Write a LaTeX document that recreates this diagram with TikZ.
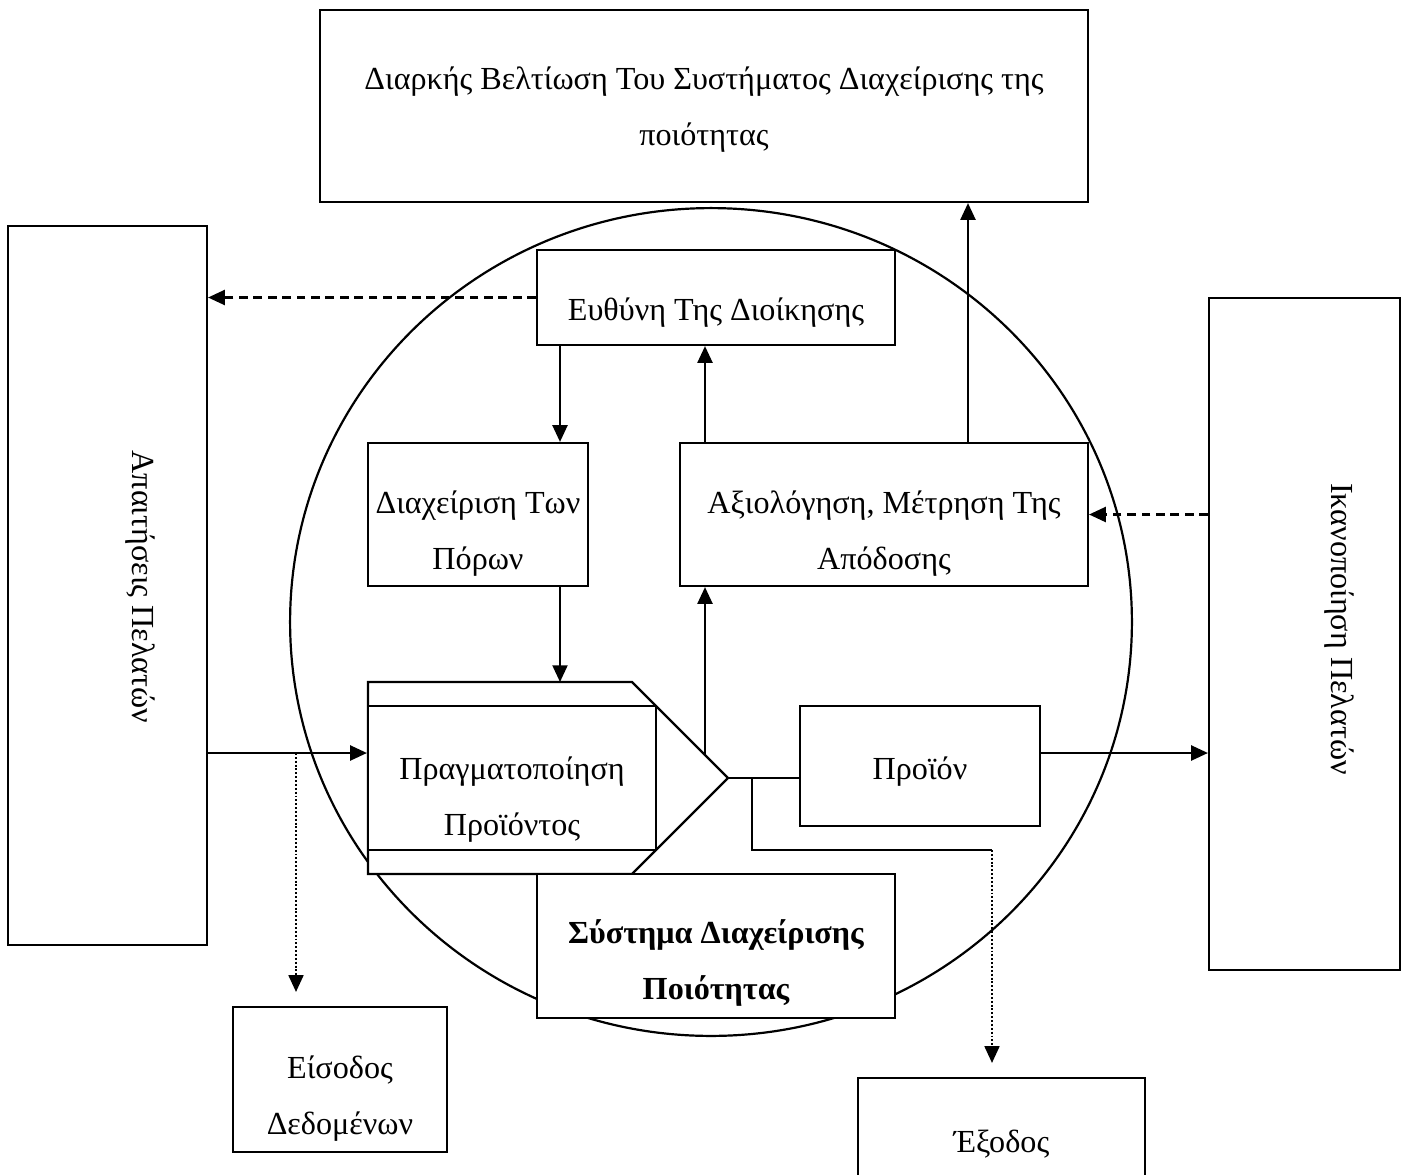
\documentclass[tikz,border=0pt]{standalone}
\usepackage{fontspec}
\setmainfont{Liberation Serif}
\usetikzlibrary{arrows.meta,shapes.geometric}

\begin{document}
\begin{tikzpicture}[x=0.02cm,y=-0.02cm,
  line width=1.25pt,
  box/.style={draw, fill=white, rectangle, inner sep=0pt},
  txt/.style={font=\fontsize{18.3}{31.8}\selectfont, align=center, inner sep=0pt, anchor=base},
  vtxt/.style={font=\fontsize{18.3}{31.8}\selectfont, inner sep=0pt, rotate=-90},
  arr/.style={-{Triangle[length=9.5pt,width=8.5pt]}},
  dasharr/.style={arr, dash pattern=on 5pt off 3.2pt},
  dotarr/.style={arr, line width=1pt, dash pattern=on 1.1pt off 1.1pt}]

\useasboundingbox (0,0) rectangle (1407,1174);
\clip (0,0) rectangle (1407,1174);

% system boundary
\node[draw, ellipse, inner sep=0pt, minimum width=16.84cm, minimum height=16.56cm] (sys) at (711,622) {};

% outer boxes (multi-line labels are anchored at the baseline of their last line)
\node[box, minimum width=15.36cm, minimum height=3.84cm] (top) at (704,106) {};
\node[txt] (top-t) at (704,145) {Διαρκής Βελτίωση Του Συστήματος Διαχείρισης της\\ποιότητας};

\node[box, minimum width=3.98cm, minimum height=14.38cm] (lbox) at (107.5,585.5) {};
\node[vtxt] (lbox-t) at (140,587) {Απαιτήσεις Πελατών};

\node[box, minimum width=3.82cm, minimum height=13.44cm] (rbox) at (1304.5,634) {};
\node[vtxt] (rbox-t) at (1339,629) {Ικανοποίηση Πελατών};

% inner processes
\node[box, minimum width=7.16cm, minimum height=1.9cm] (resp) at (716,297.5) {};
\node[txt] (resp-t) at (716,320) {Ευθύνη Της Διοίκησης};

\node[box, minimum width=4.4cm, minimum height=2.86cm] (res) at (478,514.5) {};
\node[txt] (res-t) at (478,569) {Διαχείριση Των\\Πόρων};

\node[box, minimum width=8.16cm, minimum height=2.86cm] (meas) at (884,514.5) {};
\node[txt] (meas-t) at (884,569) {Αξιολόγηση, Μέτρηση Της\\Απόδοσης};

% product realization (arrow-shaped block)
\coordinate (prtop) at (368,682);
\coordinate (tip) at (728,778);
\draw[fill=white] (prtop) -- (632,682) -- (tip) -- (632,874) -- (368,874) -- cycle;
\node[box, minimum width=5.76cm, minimum height=2.88cm] (pr) at (512,778) {};
\node[txt] (pr-t) at (512,835) {Πραγματοποίηση\\Προϊόντος};

\node[box, minimum width=4.8cm, minimum height=2.4cm] (prod) at (920,766) {};
\node[txt] (prod-t) at (920,779) {Προϊόν};

\node[box, minimum width=7.16cm, minimum height=2.88cm] (qms) at (716,946) {};
\node[txt, font=\fontsize{18.3}{31.8}\selectfont\bfseries] (qms-t) at (716,999) {Σύστημα Διαχείρισης\\Ποιότητας};

% data in / out
\node[box, minimum width=4.28cm, minimum height=2.9cm] (inbox) at (340,1079.5) {};
\node[txt] (in-t) at (340,1134) {Είσοδος\\Δεδομένων};

\node[box, minimum width=5.74cm, minimum height=2.6cm] (outbox) at (1001.5,1143) {};
\node[txt] (out-t) at (1001.5,1152) {Έξοδος};

% guide columns and rows for connectors
\coordinate (colA) at (560,0);
\coordinate (colB) at (705,0);
\coordinate (colC) at (968,0);
\coordinate (colD) at (296,0);
\coordinate (colE) at (752,0);
\coordinate (colF) at (992,0);
\coordinate (rowIn) at (0,753);
\coordinate (rowBr) at (0,850);
\coordinate (diag) at (705,754);

% connectors
\draw[arr] (resp.south -| colA) -- (res.north -| colA);
\draw[arr] (res.south -| colA) -- (prtop -| colA);
\draw[arr] (diag) -- (meas.south -| diag);
\draw[arr] (meas.north -| colB) -- (resp.south -| colB);
\draw[arr] (meas.north -| colC) -- (top.south -| colC);
\draw[dasharr] (resp.west) -- (lbox.east |- resp.west);
\draw[dasharr] (rbox.west |- meas.east) -- (meas.east);
\draw[arr] (lbox.east |- rowIn) -- (pr.west |- rowIn);
\draw[dotarr, shorten >=0.28cm] (colD |- rowIn) -- (colD |- inbox.north);
\draw (tip) -- (tip -| prod.west);
\draw (colE |- tip) -- (colE |- rowBr) -- (colF |- rowBr);
\draw[dotarr, shorten >=0.28cm] (colF |- rowBr) -- (colF |- outbox.north);
\draw[arr] (prod.east |- rowIn) -- (rbox.west |- rowIn);
\end{tikzpicture}
\end{document}
